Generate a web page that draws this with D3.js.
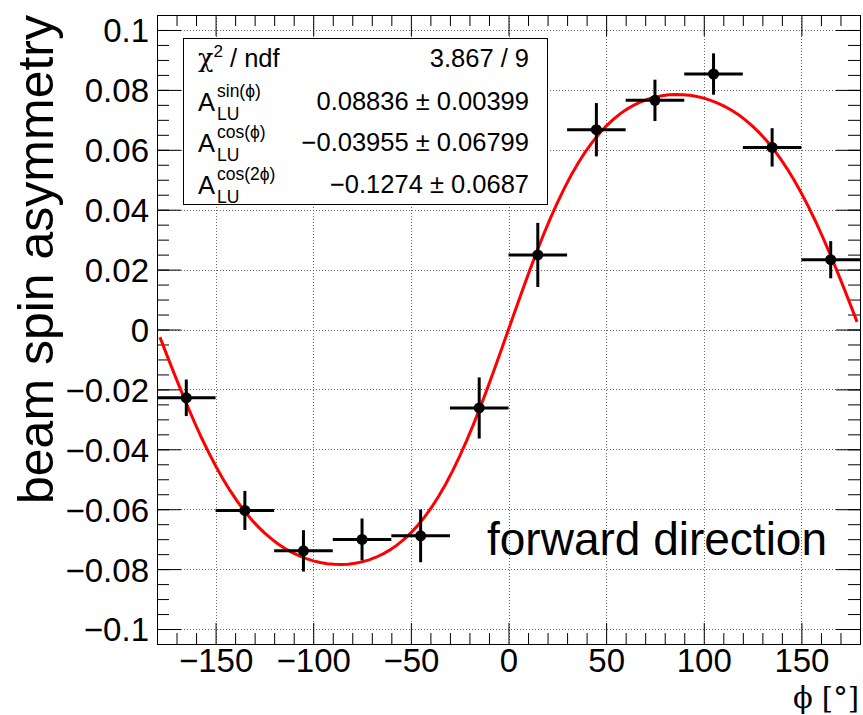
<!DOCTYPE html>
<html>
<head>
<meta charset="utf-8">
<script src="https://cdn.jsdelivr.net/npm/d3@7"></script>
<style>
  body { margin: 0; background: #fff; }
  text { font-family: "Liberation Sans", Arial, sans-serif; fill: #000; }
  .sym { font-family: "DejaVu Serif", "Liberation Serif", serif; }
</style>
</head>
<body>
<svg id="chart" width="863" height="715"></svg>
<script>
// bin centres (deg), bin half width, measured asymmetry and its error
const phiBins = [-165, -135, -105, -75, -45, -15, 15, 45, 75, 105, 135, 165];
const phiHalfWidth = [15, 15, 15, 15, 15, 15, 15, 15, 15, 15, 15, 15];
const asymmetry = [-0.0228, -0.0604, -0.0739, -0.0701, -0.0689, -0.0262, 0.0249, 0.0667, 0.0765, 0.0853, 0.0608, 0.0233];
const asymErr = [0.0061, 0.0065, 0.0069, 0.0070, 0.0088, 0.0102, 0.0107, 0.0089, 0.0069, 0.0069, 0.0064, 0.0062];

// fit results shown in the stat box
const fitNames = ["sin(ϕ)", "cos(ϕ)", "cos(2ϕ)"];
const fitParams = [0.08836, -0.03955, -0.1274];
const fitErrors = [0.00399, 0.06799, 0.0687];
const fitRange = [-178.5, 178.5];
const chi2Text = "3.867 / 9";

// axis ticks
const xTicks = [-150, -100, -50, 0, 50, 100, 150];
const xTickLabels = ["−150", "−100", "−50", "0", "50", "100", "150"];
const yTicks = [-0.1, -0.08, -0.06, -0.04, -0.02, 0, 0.02, 0.04, 0.06, 0.08, 0.1];
const yTickLabels = ["−0.1", "−0.08", "−0.06", "−0.04", "−0.02", "0", "0.02", "0.04", "0.06", "0.08", "0.1"];

const width = 863, height = 715;
const frame = { left: 157, right: 860, top: 15, bottom: 644 };

const svg = d3.select("#chart");
svg.append("rect").attr("width", width).attr("height", height).attr("fill", "#fff");

const x = d3.scaleLinear().domain([-180, 180]).range([frame.left, frame.right]);
const y = d3.scaleLinear().domain([-0.105, 0.105]).range([frame.bottom, frame.top]);

const xMinor = d3.range(-180, 181, 10).filter(v => v % 50 !== 0);
const yMinor = d3.range(-20, 21).map(i => i * 0.005).filter(v => Math.abs(v) <= 0.105);

// dotted grid at major ticks
const grid = svg.append("g").attr("stroke", "#666").attr("stroke-width", 1).attr("stroke-dasharray", "1,2");
grid.selectAll(".gx").data(xTicks).enter().append("line")
  .attr("x1", d => Math.round(x(d)) + 0.5).attr("x2", d => Math.round(x(d)) + 0.5)
  .attr("y1", frame.top).attr("y2", frame.bottom);
grid.selectAll(".gy").data(yTicks).enter().append("line")
  .attr("y1", d => Math.round(y(d)) + 0.5).attr("y2", d => Math.round(y(d)) + 0.5)
  .attr("x1", frame.left).attr("x2", frame.right);

// axes, ticks pointing inwards on all four sides
function addAxis(axisFn, scale, ticks, size, transform, labels) {
  const g = svg.append("g")
    .attr("transform", transform)
    .call(axisFn(scale).tickValues(ticks).tickSize(-size).tickSizeOuter(0)
      .tickPadding(8)
      .tickFormat(labels ? (d, i) => labels[i] : ""));
  g.select(".domain").remove();
  g.selectAll(".tick line").attr("stroke", "#000").attr("stroke-width", 1);
  return g;
}

const xb = addAxis(d3.axisBottom, x, xTicks, 21, `translate(0,${frame.bottom})`, xTickLabels);
xb.selectAll("text").attr("font-size", 33).attr("font-family", "Liberation Sans").attr("dy", "0.62em");
addAxis(d3.axisBottom, x, xMinor, 11, `translate(0,${frame.bottom})`);
addAxis(d3.axisTop, x, xTicks, 21, `translate(0,${frame.top})`);
addAxis(d3.axisTop, x, xMinor, 11, `translate(0,${frame.top})`);

const yl = addAxis(d3.axisLeft, y, yTicks, 24, `translate(${frame.left},0)`, yTickLabels);
yl.selectAll("text").attr("font-size", 33).attr("font-family", "Liberation Sans").attr("dy", "0.36em");
addAxis(d3.axisLeft, y, yMinor, 12, `translate(${frame.left},0)`);
addAxis(d3.axisRight, y, yTicks, 24, `translate(${frame.right},0)`);
addAxis(d3.axisRight, y, yMinor, 12, `translate(${frame.right},0)`);

// frame
svg.append("rect")
  .attr("x", frame.left + 0.5).attr("y", frame.top + 0.5)
  .attr("width", frame.right - frame.left).attr("height", frame.bottom - frame.top)
  .attr("fill", "none").attr("stroke", "#000").attr("stroke-width", 1);

// fit curve
const fitFn = phi => {
  const r = phi * Math.PI / 180;
  return fitParams[0] * Math.sin(r) / (1 + fitParams[1] * Math.cos(r) + fitParams[2] * Math.cos(2 * r));
};
const curvePts = d3.range(0, 101).map(i => fitRange[0] + i * (fitRange[1] - fitRange[0]) / 100);
svg.append("path")
  .datum(curvePts)
  .attr("fill", "none")
  .attr("stroke", "#ff0000")
  .attr("stroke-width", 3)
  .attr("d", d3.line().x(d => x(d)).y(d => y(fitFn(d))));

// data points with error bars
const pts = phiBins.map((p, i) => ({ phi: p, hw: phiHalfWidth[i], v: asymmetry[i], e: asymErr[i] }));
const pg = svg.append("g");
pg.selectAll(".ex").data(pts).enter().append("line")
  .attr("x1", d => x(d.phi - d.hw)).attr("x2", d => x(d.phi + d.hw))
  .attr("y1", d => y(d.v)).attr("y2", d => y(d.v))
  .attr("stroke", "#000").attr("stroke-width", 3);
pg.selectAll(".ey").data(pts).enter().append("line")
  .attr("x1", d => x(d.phi)).attr("x2", d => x(d.phi))
  .attr("y1", d => y(d.v - d.e)).attr("y2", d => y(d.v + d.e))
  .attr("stroke", "#000").attr("stroke-width", 3);
pg.selectAll("circle").data(pts).enter().append("circle")
  .attr("cx", d => x(d.phi)).attr("cy", d => y(d.v)).attr("r", 5.5)
  .attr("fill", "#000");

// stat box
const box = { x: 183.5, y: 38.5, w: 364, h: 166 };
const rowH = box.h / 4;
const sb = svg.append("g");
sb.append("rect").attr("x", box.x).attr("y", box.y).attr("width", box.w).attr("height", box.h)
  .attr("fill", "#fff").attr("stroke", "#000").attr("stroke-width", 1);

const fmt = v => String(v).replace("-", "−");
const cy0 = box.y + rowH * 0.5;
const t0 = sb.append("text").attr("x", 198).attr("y", cy0 + 8).attr("font-size", 25.5);
t0.append("tspan").attr("class", "sym").text("χ");
t0.append("tspan").attr("font-size", 17).attr("dy", -10).text("2");
t0.append("tspan").attr("dy", 10).text(" / ndf");
sb.append("text").attr("x", 529).attr("y", cy0 + 8).attr("font-size", 25.5)
  .attr("text-anchor", "end").text(chi2Text);

fitNames.forEach((name, i) => {
  const cy = box.y + rowH * (i + 1.5);
  sb.append("text").attr("x", 198).attr("y", cy + 10).attr("font-size", 25.5).text("A");
  sb.append("text").attr("x", 217).attr("y", cy - 4).attr("font-size", 17.5).text(name);
  sb.append("text").attr("x", 217).attr("y", cy + 19).attr("font-size", 17.5).text("LU");
  sb.append("text").attr("x", 529).attr("y", cy + 9).attr("font-size", 25.5)
    .attr("text-anchor", "end")
    .text(`${fmt(fitParams[i])} ± ${fmt(fitErrors[i])}`);
});

// annotation
svg.append("text").attr("x", 487).attr("y", 555).attr("font-size", 46).text("forward direction");

// axis titles
svg.append("text")
  .attr("transform", `translate(53,${frame.top}) rotate(-90)`)
  .attr("text-anchor", "end")
  .attr("font-size", 50)
  .text("beam spin asymmetry");

svg.append("text")
  .attr("x", 859).attr("y", 708)
  .attr("text-anchor", "end")
  .attr("font-size", 29)
  .attr("class", "sym")
  .text("ϕ [°]");
</script>
</body>
</html>
